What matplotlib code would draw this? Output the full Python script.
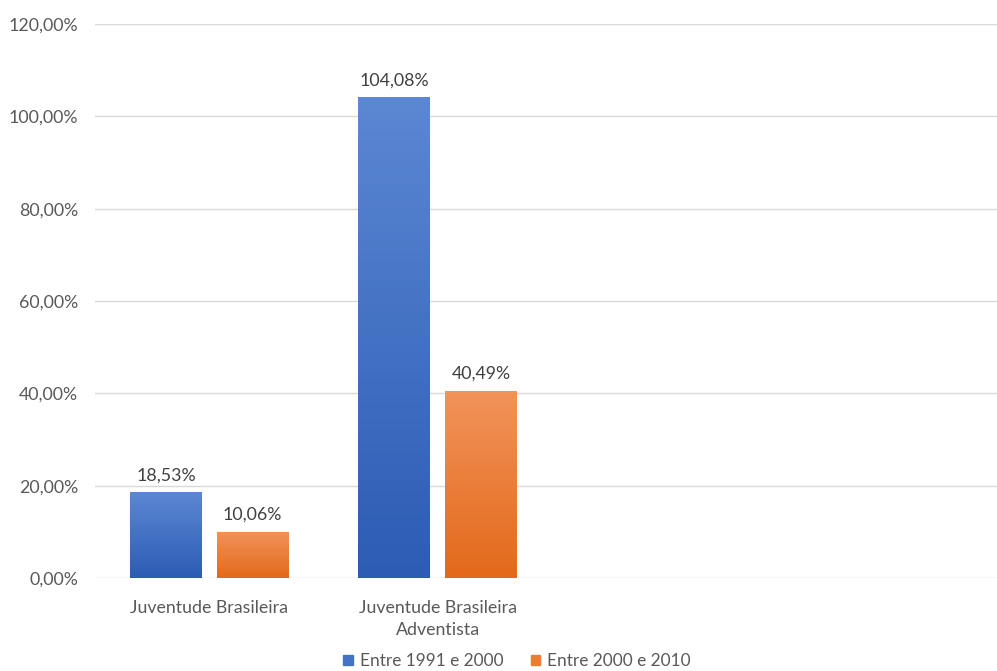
import matplotlib.pyplot as plt
import matplotlib.colors as mcolors
import numpy as np

plt.rcParams['font.family'] = ['Lato', 'DejaVu Sans']

categories = ["Juventude Brasileira", "Juventude Brasileira\nAdventista", "", ""]
serie_1991_2000 = [18.53, 104.08, None, None]
serie_2000_2010 = [10.06, 40.49, None, None]
legend_labels = ["Entre 1991 e 2000", "Entre 2000 e 2010"]
yticks = [0, 20, 40, 60, 80, 100, 120]

fig = plt.figure(figsize=(9.97, 6.71), dpi=100)
ax = fig.add_axes([95 / 997, 1 - 578 / 671, 914 / 997, (578 - 24) / 671])

width = 0.315
offset = 0.19
x = np.arange(len(categories))
fs = 12.8

def grad_bars(xs, vals, top, bottom):
    cmap = mcolors.LinearSegmentedColormap.from_list("g", [bottom, top])
    for xi, v in zip(xs, vals):
        if v is None:
            continue
        b = ax.bar(xi, v, width, color=top, edgecolor="none", zorder=2)[0]
        img = ax.imshow(np.linspace(0, 1, 100).reshape(-1, 1), cmap=cmap,
                        extent=[xi - width / 2, xi + width / 2, 0, v],
                        origin="lower", aspect="auto", zorder=3)
        img.set_clip_path(b)
        ax.text(xi, v + 2.0, f"{v:.2f}%".replace(".", ","), ha="center",
                va="bottom", fontsize=fs, color="#404040")

grad_bars(x - offset, serie_1991_2000, "#5b87d3", "#2c5cb4")
grad_bars(x + offset, serie_2000_2010, "#f2935a", "#e3691a")

ax.set_xlim(-0.5, 3.5)
ax.set_ylim(0, 120)
ax.set_yticks(yticks)
ax.set_yticklabels([f"{t:.2f}%".replace(".", ",") for t in yticks])
ax.set_xticks(x)
ax.set_xticklabels(categories, linespacing=1.45)
ax.tick_params(length=0, labelsize=fs, labelcolor="#595959")
ax.tick_params(axis="y", pad=12)
ax.tick_params(axis="x", pad=16)
ax.grid(axis="y", color="#d9d9d9", linewidth=1)
ax.set_axisbelow(True)
for s in ax.spines.values():
    s.set_visible(False)

handles = [plt.Rectangle((0, 0), 1, 1, color="#4472c4"),
           plt.Rectangle((0, 0), 1, 1, color="#ed7d31")]
fig.legend(handles, legend_labels, loc="center", bbox_to_anchor=(517 / 997, 1 - 661 / 671),
           ncol=2, frameon=False, fontsize=12.4, labelcolor="#595959",
           handlelength=0.55, handleheight=0.55, handletextpad=0.4, columnspacing=1.6)

fig.savefig("out.png", dpi=100)
